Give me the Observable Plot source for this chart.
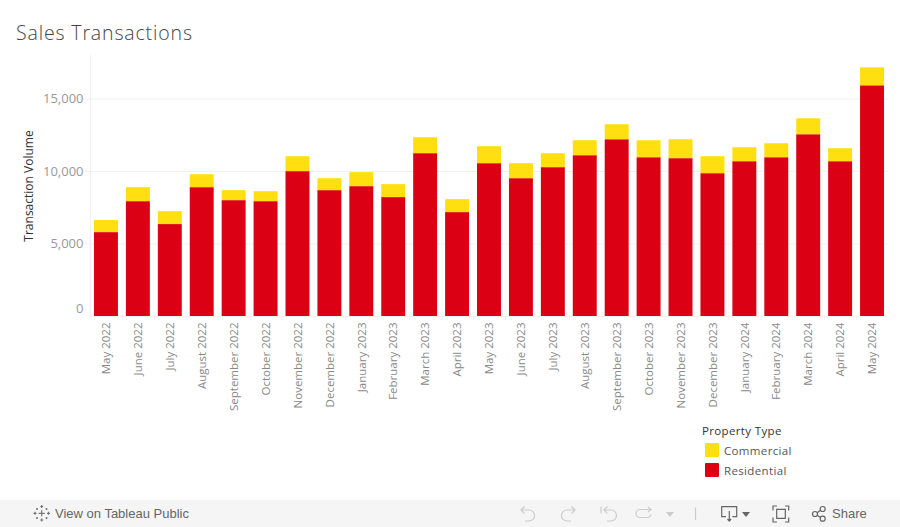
<!DOCTYPE html>
<html><head><meta charset="utf-8">
<script src="https://cdn.jsdelivr.net/npm/d3@7"></script>
<script src="https://cdn.jsdelivr.net/npm/@observablehq/plot@0.6"></script>
<style>
html,body{margin:0;padding:0;background:#fff;width:900px;height:527px;overflow:hidden;font-family:"Open Sans",sans-serif;}
#title{height:50px;box-sizing:border-box;padding:20px 0 0 16px;font-size:19.5px;font-weight:300;line-height:26px;color:#444;letter-spacing:.85px;}
#chart svg{display:block;}
#legend{position:absolute;left:702px;top:424px;font-size:11.5px;color:#555;letter-spacing:.35px;}
#legend .h{color:#333;height:14px;line-height:14px;margin-bottom:5px;}
#legend .r{display:flex;align-items:center;height:14px;margin:0 0 6px 3px;}
#legend .s{width:14px;height:14px;margin-right:5px;border-radius:1px;}
#bar{position:absolute;left:0;top:500px;width:900px;height:27px;background:#f5f5f5;color:#666;font-size:13px;font-family:"Liberation Sans",sans-serif;}
#bar span{position:absolute;top:6px;line-height:15px;font-weight:500;}
#bar svg{position:absolute;left:0;top:0;}
</style></head><body>
<div id="title">Sales Transactions</div>
<div id="chart"></div>
<div id="legend"></div>
<div id="bar">
<svg width="900" height="27" fill="none" stroke-width="1.2">
<g stroke="#777"><path d="M41.700 10.300v6M38.700 13.300h6M41.700 5v3M40.200 6.500h3M41.700 18.500v3M40.200 20h3M33.500 13.300h3M35 11.800v3M47 13.300h3M48.500 11.800v3M36 9h2M37 8v2M45.500 9h2M46.500 8v2M36 18h2M37 17v2M45.500 18h2M46.500 17v2"/></g>
<g stroke="#ccc"><path d="M521 10h8a5.500 5.500 0 0 1 0 11h-4M524.500 6.500l-3.500 3.500l3.500 3.500"/><path d="M575 10h-8a5.500 5.500 0 0 0 0 11h4M571.500 6.500l3.500 3.500l-3.500 3.500"/><path d="M601 6.500v7M604 10h7a5.500 5.500 0 0 1 0 11h-4M607.500 6.500l-3.500 3.500l3.500 3.500"/><path d="M651 9.500h-11a4 4 0 0 0 0 8h8a4 4 0 0 0 3-3M648 7l3 2.500l-3 2.500"/><path d="M695.500 7.500v12.500"/></g>
<path d="M666 12h8l-4 5z" fill="#ccc"/>
<g stroke="#666"><path d="M726 16.700h-4.300v-10h15v10h-4.300M729.300 11v10M727.500 19l1.800 2l1.800-2"/><path d="M776.700 9.300h8.600v9h-8.600zM773 10.500v-4.500h4M785 6h3.700v4.500M773 17.500v4.500h4M785 22h3.700v-4.500"/><circle cx="815" cy="14" r="2.500"/><circle cx="822.700" cy="9" r="2.500"/><circle cx="822.700" cy="18.700" r="2.500"/><path d="M817.200 12.700l3.300-2.400M817.200 15.300l3.300 2.200"/></g>
<path d="M742 12h8l-4 5z" fill="#666"/>
</svg>
<span style="left:55px">View on Tableau Public</span>
<span style="left:832px">Share</span>
</div>
<script>
const months = ["May 2022","June 2022","July 2022","August 2022","September 2022","October 2022","November 2022","December 2022","January 2023","February 2023","March 2023","April 2023","May 2023","June 2023","July 2023","August 2023","September 2023","October 2023","November 2023","December 2023","January 2024","February 2024","March 2024","April 2024","May 2024"];
const residential = [5785,7920,6340,8885,7990,7920,9990,8680,8955,8200,11230,7165,10540,9505,10265,11090,12190,10950,10885,9850,10675,10950,12535,10675,15910];
const commercial  = [830,965,890,895,690,690,1030,825,965,895,1100,895,1170,1035,960,1035,1035,1170,1305,1170,965,965,1100,895,1240];
const propertyTypes = ["Commercial","Residential"];
const typeColors = ["#ffdf10","#dc0014"];
const yTicks = [5000,10000,15000];

const rows = [];
months.forEach((m,i)=>{
  rows.push({month:m,type:"Residential",value:residential[i]});
  rows.push({month:m,type:"Commercial",value:commercial[i]});
});
const faint = "#f0f0f0";
const font = "Open Sans, sans-serif";
const plot = Plot.plot({
  width:900,height:370,marginTop:5,marginBottom:104,marginLeft:90,marginRight:12,
  style:{fontFamily:font,background:"#fff",overflow:"visible"},
  x:{domain:months,paddingInner:0.25,paddingOuter:0.125,align:0.5,round:false,label:null},
  y:{domain:[0,18000],label:null},
  color:{domain:propertyTypes,range:typeColors},
  marks:[
    Plot.frame({anchor:"left",stroke:faint}),
    Plot.gridY(yTicks,{stroke:faint,strokeOpacity:1}),
    Plot.axisY(yTicks,{tickFormat:d3.format(","),tickSize:5,stroke:faint,strokeOpacity:1,fill:"#999",fontSize:13,tickPadding:2,label:null}),
    Plot.axisY([0],{tickFormat:d3.format(","),tickSize:5,stroke:"none",fill:"#999",fontSize:13,tickPadding:2,dy:-8,label:null}),
    Plot.ruleY([0],{stroke:faint}),
    Plot.axisX(months,{fill:"none",tickSize:4,stroke:faint,strokeOpacity:1,dx:-16,label:null}),
    Plot.axisX(months,{tickSize:0,tickRotate:-90,fill:"#888",fontSize:11.5,tickPadding:6,label:null}),
    Plot.barY(rows,{x:"month",y:"value",fill:"type",order:["Residential","Commercial"]}),
    Plot.text(["Transaction Volume"],{frameAnchor:"left",textAnchor:"middle",dx:-61,rotate:-90,fill:"#333",fontSize:12})
  ]
});
document.getElementById("chart").append(plot);
const lg=document.getElementById("legend");
lg.innerHTML='<div class="h">Property Type</div>'+propertyTypes.map((t,i)=>`<div class="r"><div class="s" style="background:${typeColors[i]}"></div>${t}</div>`).join("");
</script>
</body></html>
